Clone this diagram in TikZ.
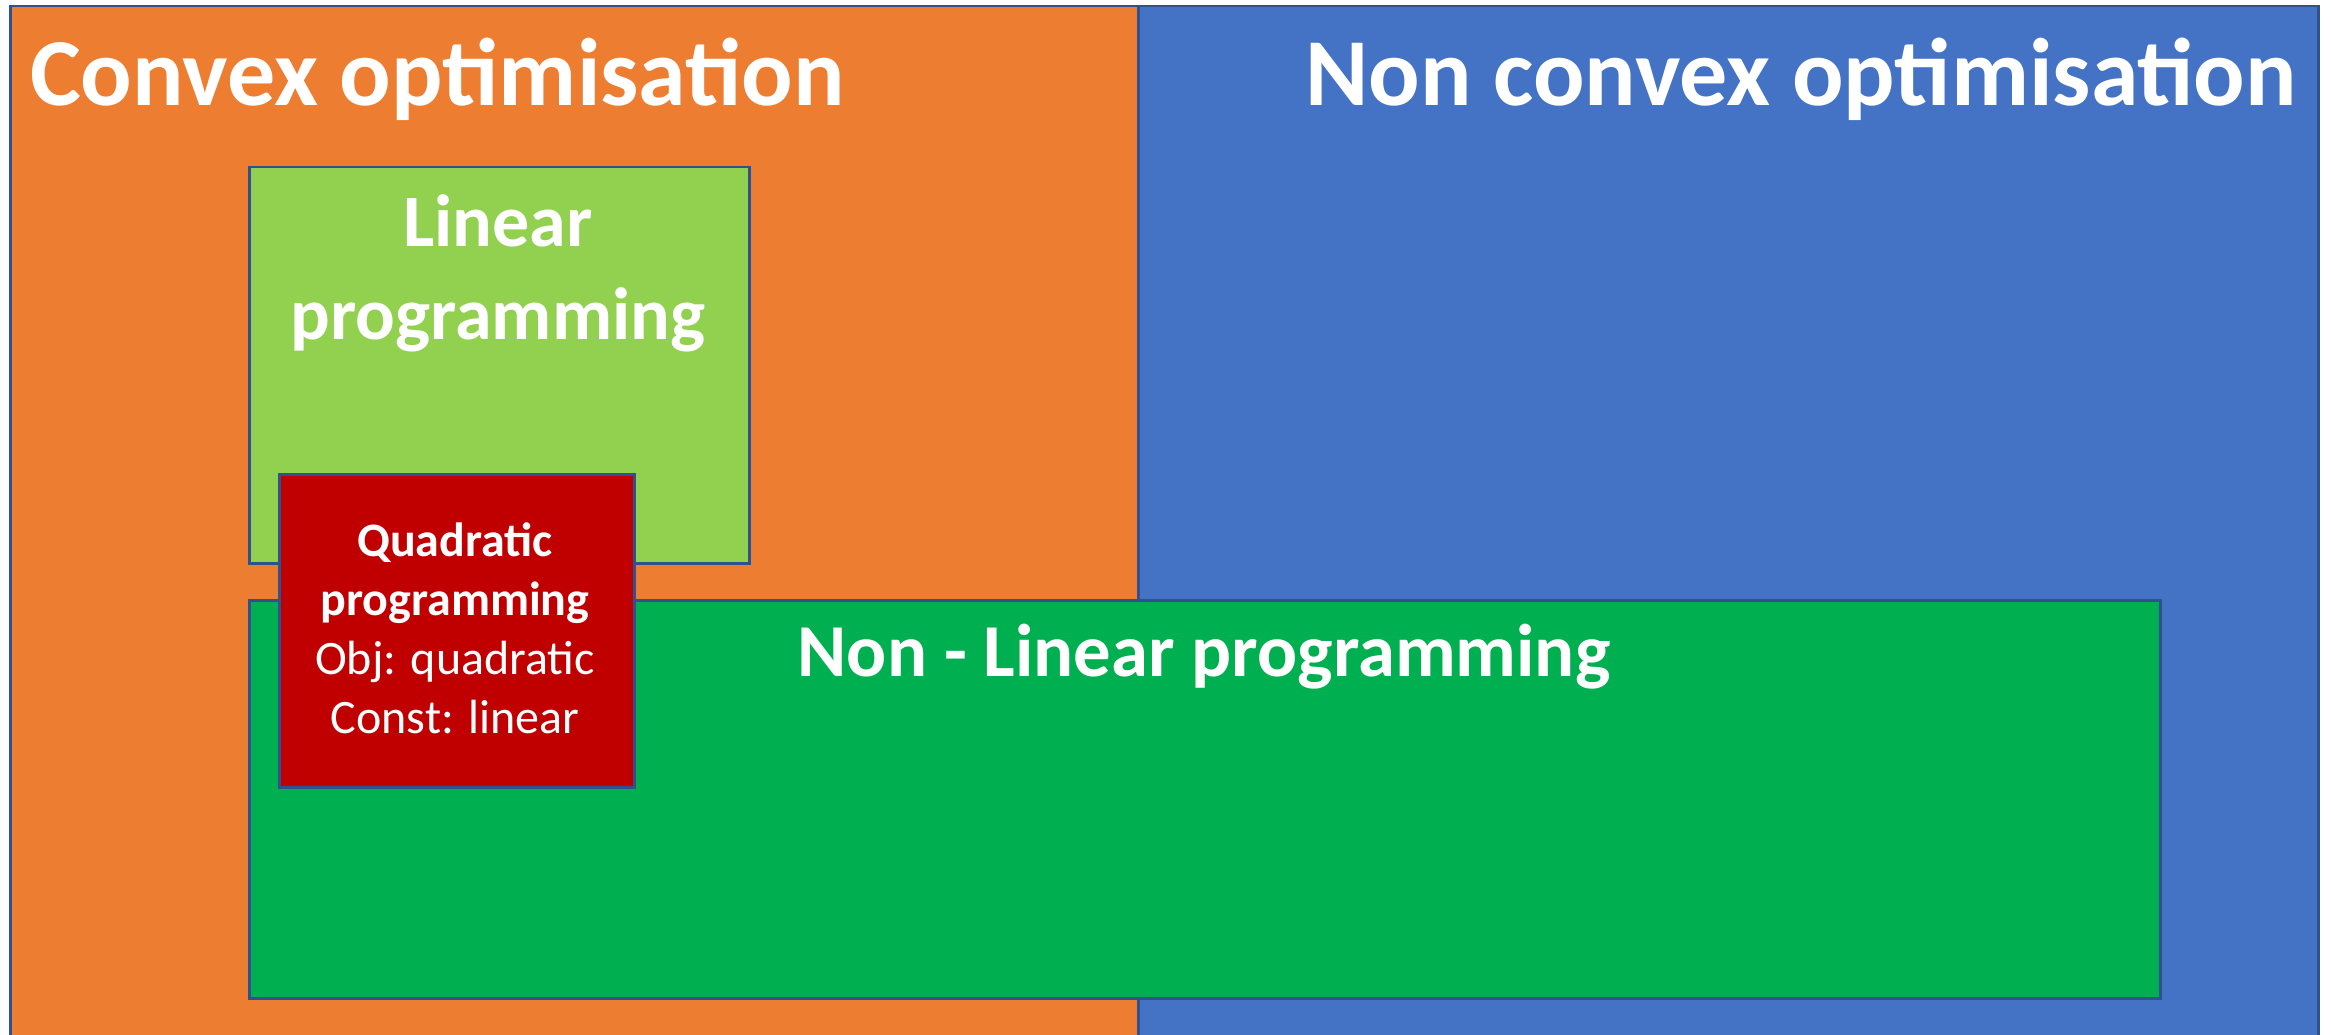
\documentclass[tikz,border=0pt]{standalone}
\usepackage{fontspec}
\setmainfont{Carlito}
\definecolor{edgeblue}{HTML}{2F528F}
\definecolor{convorange}{HTML}{ED7D31}
\definecolor{nonblue}{HTML}{4472C4}
\definecolor{lingreen}{HTML}{92D050}
\definecolor{nlgreen}{HTML}{00B050}
\definecolor{quadred}{HTML}{C00000}
\begin{document}
\begin{tikzpicture}[x=1pt,y=-1pt,
  box/.style={draw=edgeblue, line width=2.5pt, inner sep=0pt, anchor=north west, rectangle},
  lbl/.style={text=white, inner sep=0pt}]
\useasboundingbox[fill=white] (0,0) rectangle (2331,1035);
\node[box, fill=convorange, minimum width=1128pt, minimum height=1045pt] (convex) at (9,5) {};
\node[box, fill=nonblue, minimum width=1180pt, minimum height=1045pt] (nonconvex) at (1137,5) {};
\node[box, fill=lingreen, minimum width=500pt, minimum height=396pt] (linear) at (248,166) {};
\node[box, fill=nlgreen, minimum width=1911pt, minimum height=398pt] (nonlinear) at (248,599) {};
\node[box, fill=quadred, minimum width=355pt, minimum height=313pt] (quad) at (278,473) {};
% titles
\node[lbl, anchor=base west, font=\fontsize{96}{116}\selectfont\bfseries] (convt) at (30,106) {Convex optimisation};
\node[lbl, anchor=base east, font=\fontsize{96}{116}\selectfont\bfseries] (nonconvt) at (2297,106) {Non convex optimisation};
% linear programming
\node[lbl, anchor=base, font=\fontsize{74}{90}\selectfont\bfseries] (lin1) at (498,247) {Linear};
\node[lbl, anchor=base, font=\fontsize{74}{90}\selectfont\bfseries] (lin2) at (498,339) {programming};
% non-linear
\node[lbl, anchor=base, font=\fontsize{74.7}{90}\selectfont\bfseries] (nlt) at (1204,676) {Non - Linear programming};
% quadratic
\node[lbl, anchor=base, font=\fontsize{48}{59}\selectfont\bfseries] (q1) at (455,556) {Quadratic};
\node[lbl, anchor=base, font=\fontsize{48}{59}\selectfont\bfseries] (q2) at (455,615) {programming};
\node[lbl, anchor=base, font=\fontsize{48}{59}\selectfont] (q3) at (455,674) {Obj: quadratic};
\node[lbl, anchor=base, font=\fontsize{48}{59}\selectfont] (q4) at (455,733) {Const: linear};
\end{tikzpicture}
\end{document}
